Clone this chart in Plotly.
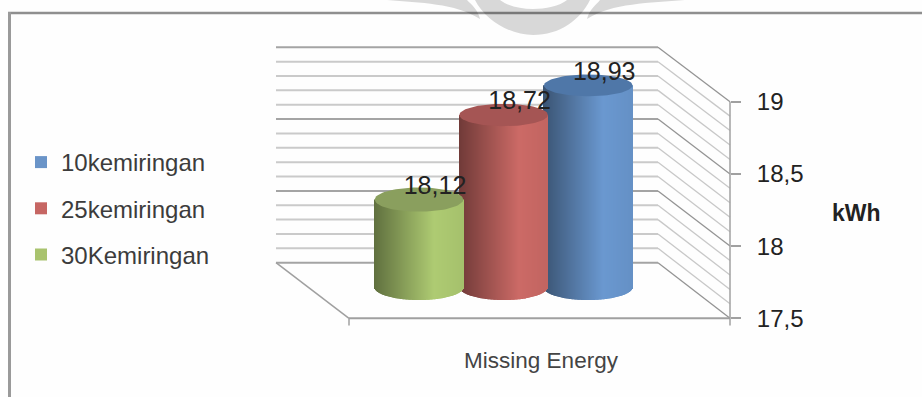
import numpy as np
import plotly.graph_objects as go

# Chart values
series_names = ["10kemiringan", "25kemiringan", "30Kemiringan"]
series_values = [18.93, 18.72, 18.12]
category_label = "Missing Energy"
unit_label = "kWh"
tick_values = [17.5, 18, 18.5, 19]
tick_labels = ["17,5", "18", "18,5", "19"]

# Colours per series: bright side of the cylinder, and its lid
body_colors = [(106, 152, 208), (204, 106, 102), (174, 203, 114)]
swatch_colors = ["#6a94c8", "#c66663", "#a9c36e"]
lid_colors = ["#4f77a8", "#a55554", "#8a9f5e"]

WIDTH, HEIGHT = 922, 397
Y_FLOOR = 17.5
Y_TOP = 19.0
PX_PER_VALUE = 144.4
PX_FRONT_FLOOR = 318.3
PX_PER_SLOT = 84.6
PX_FIRST_SLOT = 419.0
RADIUS_PX = 44.3


def x_at(px):
    return (px - PX_FIRST_SLOT) / PX_PER_SLOT


def y_at(px):
    return Y_FLOOR + (PX_FRONT_FLOOR - px) / PX_PER_VALUE


def y_back(v):
    # Value as seen on the rear wall of the 3D box
    return y_at(262.7) + (v - Y_FLOOR) * 0.9945


def y_mid(v):
    # Value on the plane through the cylinder axes
    return y_at(287.0) + (v - Y_FLOOR) * 0.9765


def px_x(px):
    return px / WIDTH


def px_y(px):
    return 1 - px / HEIGHT


def line_shape(x0, y0, x1, y1, color, width):
    return dict(type="line", xref="x", yref="y", x0=x0, y0=y0, x1=x1, y1=y1,
                line=dict(color=color, width=width), layer="below")


def wm_path(cmds):
    # Path in page pixels, converted to paper fractions
    out = []
    for c in cmds:
        if isinstance(c, str):
            out.append(c)
        else:
            out.append(f"{px_x(c[0]):.5f},{px_y(c[1]):.5f}")
    return " ".join(out)


shapes = []

# Page frame (top and left edges only)
shapes.append(dict(type="line", xref="paper", yref="paper", x0=px_x(8), x1=1, y0=px_y(13), y1=px_y(13),
                   line=dict(color="#8f8f8f", width=2.5), layer="below"))
shapes.append(dict(type="line", xref="paper", yref="paper", x0=px_x(9.5), x1=px_x(9.5), y0=px_y(12), y1=0,
                   line=dict(color="#9a9a9a", width=3), layer="below"))

# Faint emblem behind the top edge
emblem = [
    ["M", (475, 0), "C", (485, 20), (510, 35), (533, 35), "C", (560, 35), (580, 20), (590, 0),
     "L", (567, 0), "C", (560, 6), (545, 9), (533, 9), "C", (520, 9), (508, 6), (500, 0), "Z"],
    ["M", (387, 0), "C", (420, 3), (455, 3), (480, 19), "C", (478, 10), (472, 5), (467, 0), "Z"],
    ["M", (685, 0), "C", (650, 3), (612, 3), (587, 19), "C", (589, 10), (596, 5), (600, 0), "Z"],
]
for part in emblem:
    shapes.append(dict(type="path", xref="paper", yref="paper", path=wm_path(part),
                       fillcolor="rgba(0,0,0,0.15)", line=dict(width=0), layer="below"))

# Rear wall and side wall gridlines
X_BACK_L, X_BACK_R = x_at(276), x_at(658)
X_FRONT_L, X_FRONT_R = x_at(349), x_at(730)
for i in range(16):
    v = round(Y_FLOOR + i * 0.1, 1)
    major = i % 5 == 0
    wall = "#a4a4a4" if major else "#cacaca"
    side = "#949494" if major else "#c8c8c8"
    shapes.append(line_shape(X_BACK_L, y_back(v), X_BACK_R, y_back(v), wall, 2))
    shapes.append(line_shape(X_BACK_R, y_back(v), X_FRONT_R, v, side, 1.3))

# Floor edges, axis lines and the two category ticks
AXIS = "#a0a0a0"
shapes.append(line_shape(X_BACK_L, y_back(Y_FLOOR), X_FRONT_L, Y_FLOOR, AXIS, 1.5))
shapes.append(line_shape(X_FRONT_L, Y_FLOOR, X_FRONT_R, Y_FLOOR, AXIS, 2))
shapes.append(line_shape(X_FRONT_R, y_at(325.5), X_FRONT_R, Y_TOP, AXIS, 1.5))
shapes.append(line_shape(X_FRONT_L, y_at(325.5), X_FRONT_L, Y_FLOOR, AXIS, 1.5))

fig = go.Figure()

R = RADIUS_PX / PX_PER_SLOT
PX_UNIT = 1 / PX_PER_SLOT
slot_positions = [2, 1, 0]

label_x, label_y, label_text = [], [], []
for name, value, pos, bright, swatch, lid in zip(series_names, series_values, slot_positions,
                                                 body_colors, swatch_colors, lid_colors):
    # Plain bar carrying the value and the legend entry
    fig.add_trace(go.Bar(
        x=[pos], y=[y_mid(value) - y_mid(Y_FLOOR)], base=[y_mid(Y_FLOOR)], width=[2 * R * 0.98],
        name=name, marker=dict(color=swatch, line=dict(width=0)),
        legendgroup=name, hoverinfo="skip",
    ))

    # Shaded body built from one-pixel columns, rounded at the foot
    n = int(round(2 * RADIUS_PX))
    u = (np.arange(n) + 0.5) / n * 2 - 1
    xs = pos + u * R
    foot = y_mid(Y_FLOOR) - (13 / PX_PER_VALUE) * np.sqrt(1 - u ** 2)
    shade = np.where(u < 0.35, 0.55 + 0.45 * (u + 1) / 1.35, 1 - 0.05 * (u - 0.35) / 0.65)
    cols = [f"rgb({bright[0]*s:.0f},{bright[1]*s:.0f},{bright[2]*s:.0f})" for s in shade]
    fig.add_trace(go.Bar(
        x=xs, base=foot, y=y_mid(value) - foot, width=PX_UNIT * 1.02,
        marker=dict(color=cols, line=dict(width=0)),
        showlegend=False, hoverinfo="skip", legendgroup=name,
    ))

    # Elliptical lid
    lid_half = (13 - 1.5 * (value - Y_FLOOR)) / PX_PER_VALUE
    t = np.linspace(0, 2 * np.pi, 90)
    fig.add_trace(go.Scatter(
        x=pos + R * np.cos(t), y=y_mid(value) + lid_half * np.sin(t),
        mode="lines", fill="toself", fillcolor=lid, line=dict(width=0, color=lid),
        showlegend=False, hoverinfo="skip", legendgroup=name,
    ))

    label_x.append(pos + 16 / PX_PER_SLOT)
    label_y.append(y_mid(value) + 12 / PX_PER_VALUE)
    label_text.append(f"{value:.2f}".replace(".", ","))

# Value labels, drawn above every cylinder
fig.add_trace(go.Scatter(
    x=label_x, y=label_y, text=label_text, mode="text", textposition="middle center",
    textfont=dict(family="Liberation Sans", size=25, color="#222222"),
    showlegend=False, hoverinfo="skip",
))

fig.update_layout(
    width=WIDTH, height=HEIGHT,
    margin=dict(l=0, r=0, t=0, b=0, pad=0),
    paper_bgcolor="#fefefe", plot_bgcolor="rgba(0,0,0,0)",
    barmode="overlay", shapes=shapes,
    font=dict(family="Liberation Sans", color="#333333"),
    legend=dict(
        x=px_x(21), y=px_y(140), xanchor="left", yanchor="top",
        traceorder="grouped", tracegroupgap=12, itemclick=False, itemdoubleclick=False,
        bgcolor="rgba(0,0,0,0)", borderwidth=0,
        font=dict(family="Liberation Sans", size=24, color="#3c3c3c"),
    ),
    xaxis=dict(
        range=[x_at(0), x_at(WIDTH)], domain=[0, 1], fixedrange=True,
        anchor="free", position=(HEIGHT - PX_FRONT_FLOOR) / HEIGHT,
        showgrid=False, zeroline=False, showline=False, ticks="",
        tickmode="array", tickvals=[x_at(541)], ticktext=[category_label],
        ticklabelstandoff=26, tickfont=dict(family="Liberation Sans", size=22.5, color="#444444"),
    ),
    yaxis=dict(
        range=[y_at(HEIGHT), y_at(0)], domain=[0, 1], fixedrange=True,
        anchor="free", position=730 / WIDTH, side="right",
        showgrid=False, zeroline=False, showline=False,
        tickmode="array", tickvals=tick_values, ticktext=tick_labels,
        ticks="outside", ticklen=10, tickwidth=2, tickcolor=AXIS,
        ticklabelstandoff=11, tickfont=dict(family="Liberation Sans", size=24, color="#222222"),
    ),
    annotations=[dict(
        text=f"<b>{unit_label}</b>", xref="paper", yref="paper",
        x=px_x(856.5), y=px_y(213), xanchor="center", yanchor="middle", showarrow=False,
        font=dict(family="Liberation Sans", size=23, color="#222222"),
    )],
)

fig.write_html("out.html", config=dict(displayModeBar=False))
